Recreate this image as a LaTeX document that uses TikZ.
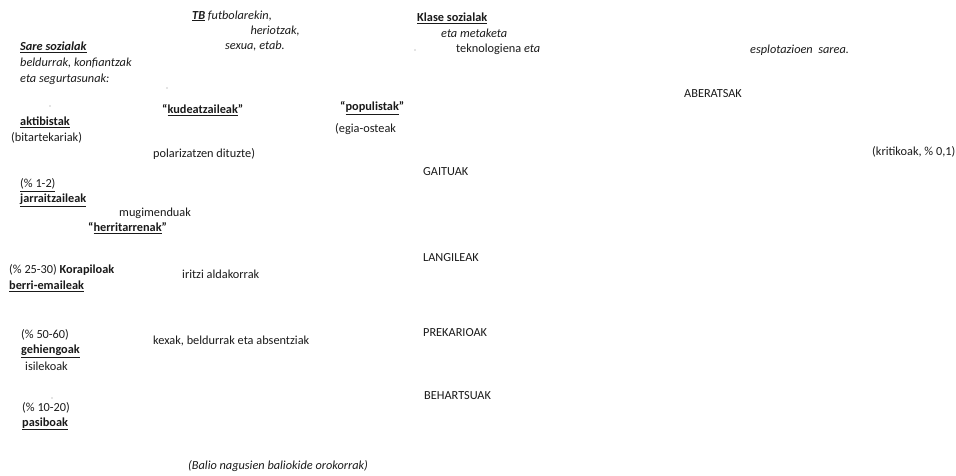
\documentclass[tikz,border=0pt]{standalone}
\usepackage{fontspec}
\setmainfont{Carlito}
\definecolor{txt}{HTML}{1A1A1A}
\tikzset{
  lbl/.style={anchor=west, inner sep=0pt, text=txt, font=\fontsize{12.3}{15}\selectfont},
  rlbl/.style={anchor=east, inner sep=0pt, text=txt, font=\fontsize{12.3}{15}\selectfont},
  speck/.style={fill=black!45, inner sep=0pt, minimum size=1.2pt, circle}
}
\newcommand{\ul}[1]{\underline{#1}}
\begin{document}
\begin{tikzpicture}[x=1pt,y=-1pt]
\useasboundingbox (0,0) rectangle (956,475);
% left column
\node[lbl] (sare1) at (20,47) {\textit{\textbf{\ul{Sare sozialak}}}};
\node[lbl] (sare2) at (20,63) {\textit{beldurrak, konfiantzak}};
\node[lbl] (sare3) at (20,79) {\textit{eta segurtasunak:}};
\node[lbl] (tb1) at (192,16) {\textit{\textbf{\ul{TB}} futbolarekin,}};
\node[rlbl] (tb2) at (300,31) {\textit{heriotzak,}};
\node[lbl] (tb3) at (225,46) {\textit{sexua, etab.}};
\node[speck] (d1) at (167,88) {};
\node[speck] (d2) at (50,106) {};
\node[speck] (d3) at (415,50) {};
\node[lbl] (kud) at (162,110) {\textbf{“\ul{kudeatzaileak}”}};
\node[lbl] (pop) at (340,108) {\textbf{“\ul{populistak}”}};
\node[lbl] (egia) at (335,129) {(egia-osteak};
\node[lbl] (akt) at (20,122) {\textbf{\ul{aktibistak}}};
\node[lbl] (bit) at (11,138) {(bitartekariak)};
\node[lbl] (pol) at (153,154) {polarizatzen dituzte)};
\node[lbl] (p12) at (20,185) {\ul{(\% 1-2)}};
\node[lbl] (jar) at (20,200) {\textbf{\ul{jarraitzaileak}}};
\node[lbl] (mug) at (119,213) {mugimenduak};
\node[lbl] (her) at (88,228) {\textbf{“\ul{herritarrenak}”}};
\node[lbl] (kor) at (9,270) {(\% 25-30) \textbf{Korapiloak}};
\node[lbl] (ber) at (9,286) {\textbf{\ul{berri-emaileak}}};
\node[lbl] (iri) at (182,274) {iritzi aldakorrak};
\node[lbl] (p50) at (21,335) {(\% 50-60)};
\node[lbl] (geh) at (21,351) {\textbf{\ul{gehiengoak}}};
\node[lbl] (isi) at (25,366) {isilekoak};
\node[lbl] (kex) at (153,341) {kexak, beldurrak eta absentziak};
\node[speck] (d4) at (52,398) {};
\node[lbl] (p10) at (22,408) {(\% 10-20)};
\node[lbl] (pas) at (22,424) {\textbf{\ul{pasiboak}}};
\node[lbl] (bal) at (188,466) {\textit{(Balio nagusien baliokide orokorrak)}};
% right part
\node[lbl] (kla) at (417,18) {\textbf{\ul{Klase sozialak}}};
\node[lbl] (eta) at (441,33) {\textit{eta metaketa}};
\node[lbl] (tek) at (456,49) {teknologiena \textit{eta}};
\node[lbl] (esp) at (750,50) {\textit{esplotazioen\ \ sarea.}};
\node[lbl] (abe) at (684,94) {ABERATSAK};
\node[lbl] (kri) at (872,152) {(kritikoak, \% 0,1)};
\node[lbl] (gai) at (423,172) {GAITUAK};
\node[lbl] (lan) at (423,258) {LANGILEAK};
\node[lbl] (pre) at (423,333) {PREKARIOAK};
\node[lbl] (beh) at (424,396) {BEHARTSUAK};
\end{tikzpicture}
\end{document}
